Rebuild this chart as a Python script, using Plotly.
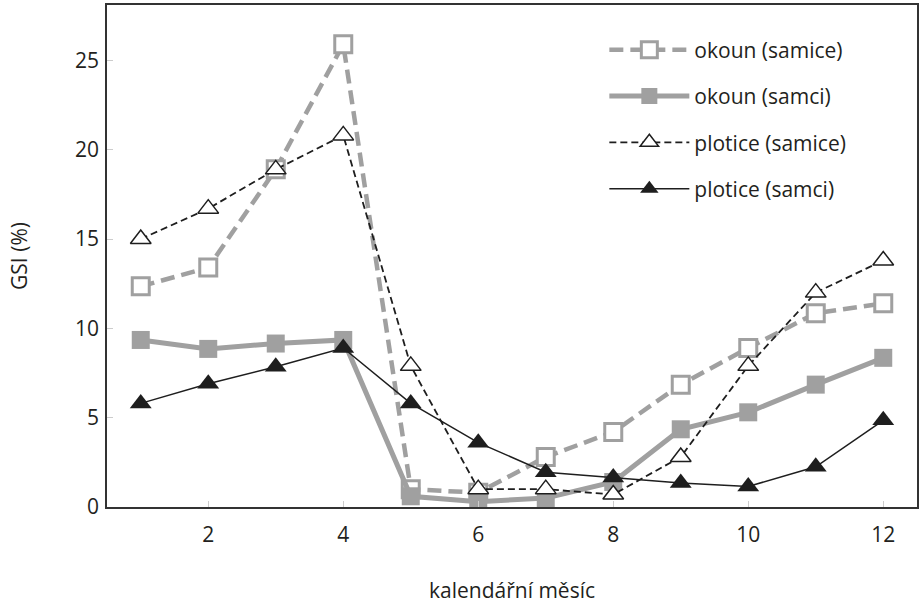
import plotly.graph_objects as go

months = [1, 2, 3, 4, 5, 6, 7, 8, 9, 10, 11, 12]
okoun_samice = [12.35, 13.4, 18.9, 25.9, 1.0, 0.8, 2.8, 4.2, 6.85, 8.9, 10.85, 11.4]
okoun_samci = [9.35, 8.85, 9.15, 9.35, 0.6, 0.3, 0.5, 1.4, 4.35, 5.3, 6.85, 8.35]
plotice_samice = [15.0, 16.7, 18.9, 20.8, 7.9, 1.0, 1.0, 0.7, 2.8, 7.9, 12.0, 13.8]
plotice_samci = [5.8, 6.9, 7.85, 8.9, 5.8, 3.6, 1.95, 1.65, 1.35, 1.15, 2.25, 4.85]

names = ["okoun (samice)", "okoun (samci)", "plotice (samice)", "plotice (samci)"]
x_ticks = [2, 4, 6, 8, 10, 12]
y_ticks = [0, 5, 10, 15, 20, 25]

GRAY = "#a0a0a0"
DARK = "#1e1e1e"
FONT = "Open Sans"
TXT = "#231f20"
FS = 21

fig = go.Figure()
fig.add_trace(go.Scatter(
    x=months, y=okoun_samice, name=names[0], mode="lines+markers", legendgroup="a",
    line=dict(color=GRAY, width=4.5, dash="14px,7px"),
    marker=dict(symbol="square", size=17, color="white", line=dict(color=GRAY, width=3)),
))
fig.add_trace(go.Scatter(
    x=months, y=okoun_samci, name=names[1], mode="lines+markers", legendgroup="b",
    line=dict(color=GRAY, width=5),
    marker=dict(symbol="square", size=18, color=GRAY, line=dict(width=0)),
))
fig.add_trace(go.Scatter(
    x=months, y=plotice_samice, name=names[2], mode="lines+markers", legendgroup="c",
    line=dict(color=DARK, width=1.8, dash="7px,4px"),
    marker=dict(symbol="triangle-up", size=18, color="white", line=dict(color=DARK, width=1.5)),
))
fig.add_trace(go.Scatter(
    x=months, y=plotice_samci, name=names[3], mode="lines+markers", legendgroup="d",
    line=dict(color=DARK, width=1.5),
    marker=dict(symbol="triangle-up", size=19, color=DARK, line=dict(width=0)),
))

axis_common = dict(
    showline=True, mirror=True, linecolor="#333333", linewidth=1.5,
    showgrid=False, zeroline=False, automargin=False,
    ticks="inside", ticklen=6, tickwidth=1, tickcolor="#cccccc",
    tickfont=dict(family=FONT, size=FS, color=TXT),
)

fig.update_layout(
    width=919, height=605,
    margin=dict(l=107, r=2, t=5, b=98),
    paper_bgcolor="white", plot_bgcolor="white",
    font=dict(family=FONT, size=FS, color=TXT),
    xaxis=dict(range=[0.5, 12.5], tickvals=x_ticks, ticklabelstandoff=8,
               title=dict(text="kalendářní měsíc", standoff=36,
                          font=dict(family=FONT, size=FS, color=TXT)),
               **axis_common),
    yaxis=dict(range=[0, 28.1], tickvals=y_ticks, ticklabelstandoff=2,
               title=dict(text="GSI (%)", standoff=42,
                          font=dict(family=FONT, size=FS, color=TXT)),
               **axis_common),
    legend=dict(x=0.614, y=0.951, xanchor="left", yanchor="top",
                bgcolor="rgba(0,0,0,0)", borderwidth=0,
                font=dict(family=FONT, size=FS, color=TXT),
                tracegroupgap=16, itemwidth=80),
    showlegend=True,
)

fig.write_html("out.html", config={"displayModeBar": False},
               post_script="document.body.style.margin='0';document.body.style.padding='0';")
